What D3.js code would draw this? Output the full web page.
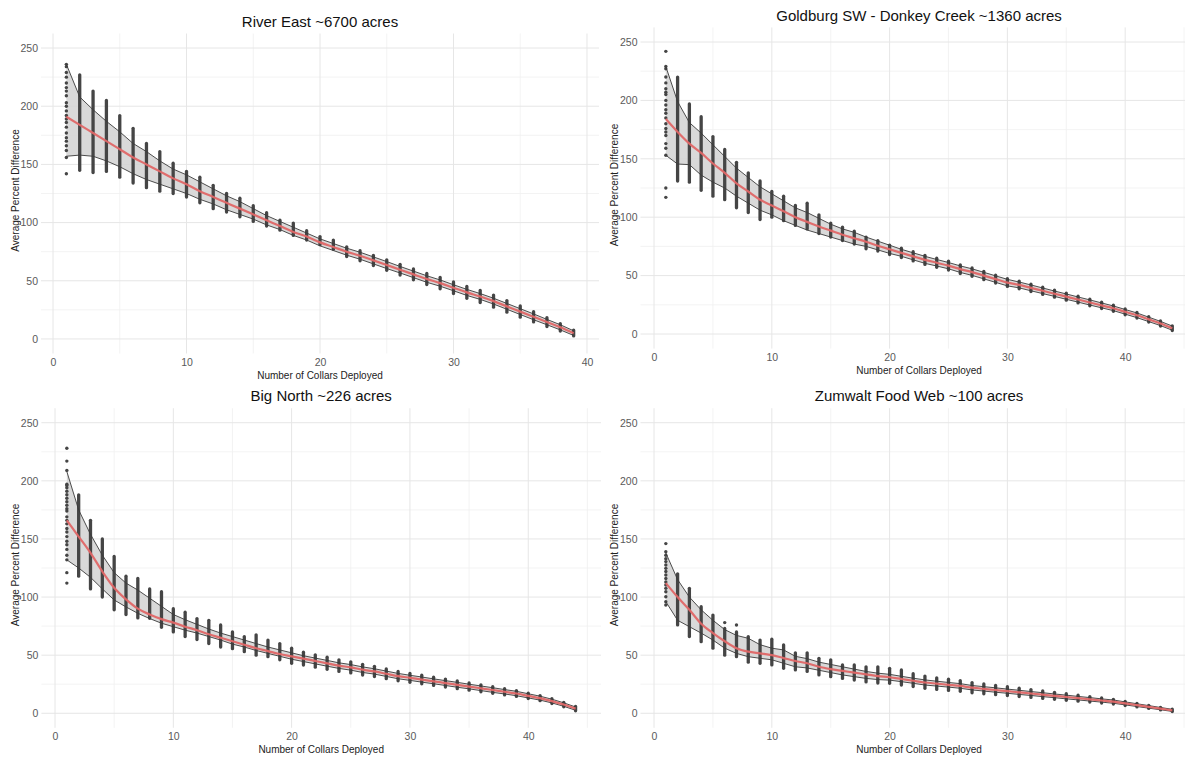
<!DOCTYPE html>
<html><head><meta charset="utf-8">
<script src="https://cdn.jsdelivr.net/npm/d3@7"></script>
<style>
body{margin:0;background:#fff;}
svg{display:block;font-family:"Liberation Sans",Arial,Helvetica,sans-serif;}
</style>
</head><body>
<svg id="chart" width="1185" height="757"></svg>
<script>
// ---------------- DATA ----------------
const panelTitles = ["River East ~6700 acres", "Goldburg SW - Donkey Creek ~1360 acres", "Big North ~226 acres", "Zumwalt Food Web ~100 acres"];
const xAxisTitle = "Number of Collars Deployed";
const yAxisTitle = "Average Percent Difference";
const xTickValues = [0, 10, 20, 30, 40];
const yTickValues = [0, 50, 100, 150, 200, 250];

const collarsRiver = d3.range(1, 40);   // 1..39 collars
const collarsOther = d3.range(1, 45);   // 1..44 collars

// River East
const riverMean = [191,184,177,170,163,156,150,144,138,133, 127,122,117,112,107,102,97,92,88,83, 79,75,71.5,67.5,63.5,59.5,55.5,51.5,48,44, 40,36.5,32.5,28,23.5,19,14.5,10,5];
const riverBandHi = [236,208,197,187,178,168,161,153,146,141, 135,129,123,118,112,106,101,96,91,86, 82,78,74.5,70.5,66.5,62.3,58.3,54.3,50.7,46.6, 42.6,39,35,30.5,26,21.5,16.8,12.2,7];
const riverBandLo = [157,158,157,153,148,142,137,133,129,125, 120,116,111,107,103,98,94,89,85,80, 76,72,68.5,64.5,60.5,56.7,52.7,48.7,45.3,41.4, 37.4,34,30,25.5,21,16.5,12.2,7.8,3];
// point column extents for collars 2..N
const riverColLo = [145,143,144,139,134,130,127,125,122, 117,112,109,105,101,97,93.5,89,85,81, 77,70.8,67.2,63.1,59,54.9,50.8,46.7,43.1,39, 34.9,31.3,27.3,23,18.7,14.6,10.7,6.8,2.6];
const riverColHi = [227,213,205,192,181,168,161,151,144, 139,132,125,121,114.5,108.5,102,99.6,93,88, 85,79.2,75.8,71.9,68,64.1,60.2,56.3,52.9,49, 45.1,41.7,37.7,33,28.3,23.4,18.3,13.2,7.6];
// individual points at 1 collar
const riverFirst = [236,234,229,225,220,216,213,209,203,200,196,192,189,186,182,177,173,170,166,162,156,142];

// Goldburg SW - Donkey Creek
const goldMean = [184,173,163,155,146,138,129,122,115,110, 105,100,96,92,88.5,85,82,79,75.5,72.5, 69.5,66.5,63.5,61,58.5,55.5,53,50,47,44, 42,39.5,37,34.5,32,29.5,27,24.5,22,19, 16,12.5,9,5];
const goldBandHi = [229,199,181,172,162,152,142,134,126,120, 114,108,104,99,94,90,87,83,79.5,76, 72.5,69.5,66.5,63.8,61.2,58.3,55.8,52.8,49.8,46.8, 44.5,42,39.4,36.8,34.3,31.7,29.2,26.6,24,21, 18,14.4,10.8,6.8];
const goldBandLo = [153,145.5,145,136,130,125,118,112,106,102, 97,93,89,86,83,80,77,75,72,69, 66.5,63.5,60.5,58.2,55.8,52.7,50.2,47.2,44.2,41.2, 39.5,37,34.6,32.2,29.7,27.3,24.8,22.4,20,17, 14,10.6,7.2,3.2];
const goldColLo = [131,130,123,118,115,108,104,98,100, 97,93,90,86,83,80,77,73,71,68, 65.5,62.6,59.6,57.1,54.7,51.8,49.4,46.5,43.6,40.7, 38.7,36.3,33.9,31.5,29,26.6,24.2,21.8,19.4,16.5, 13.6,10.2,6.8,3];
const goldColHi = [220,197,186,169,158,147,138,131,122, 118,110,112,102,95,91.5,88,83,80,76, 73.5,70.4,67.4,64.9,62.3,59.2,56.6,53.5,50.4,47.3, 45.3,42.7,40.1,37.5,35,32.4,29.8,27.2,24.6,21.5, 18.4,14.8,11.2,7];
const goldFirst = [242,229,227,220,215,210,207,205,200,196,192,189,185,180,176,173,170,163,159,153,125,117];

// Big North
const bigMean = [166,152,138,122,108,98,90,85,81,78, 74.5,71.5,68,65,62,59,56,53.5,51,49, 47,45,43,41,39.5,37.5,36,34,32,30.5, 29,27.5,26,24.5,23,21.5,20,18.5,17,15, 13,10.5,7.5,4];
const bigBandHi = [208,175,154,136,121,112,106,99,92,85, 80.5,76.5,72.5,69,66,63,60,57,54.5,52, 49.5,47.5,45.5,43.4,41.9,39.9,38.3,36.3,34.3,32.7, 31.2,29.6,28.1,26.6,25,23.5,22,20.4,18.9,16.8, 14.7,12.1,9,5.4];
const bigBandLo = [132,125,117,107,97.5,91.5,86,81.5,77.5,74.5, 71.5,69,66,63,59.5,57,54,51.5,49,46.5, 44.5,42.5,40.5,38.6,37.1,35.1,33.7,31.7,29.7,28.3, 26.8,25.4,23.9,22.4,21,19.5,18,16.6,15.1,13.2, 11.3,8.9,6,2.6];
const bigColLo = [118,107,100,89,85,82,81.7,74,70, 66,63.4,60,57,55.6,53,50,48.7,46,43, 41.5,39.7,37.8,36,34.7,32.9,31.6,29.8,28,26.7, 25.3,24,22.6,21.2,19.9,18.5,17.2,15.8,14.5,12.7, 10.8,8.4,5.6,2.1];
const bigColHi = [188,166,150,135,118,116,107,104.6,90, 87,81.5,80,76,70,66,67.5,63,60,56, 52.5,50.3,48.2,46,44.3,42.1,40.4,38.2,36,34.3, 32.7,31,29.4,27.8,26.1,24.5,22.8,21.2,19.5,17.3, 15.2,12.6,9.4,5.9];
const bigFirst = [228,217,209,197,196,194,191,188,185,182,179,176,174,169,166,163,159,156,152,148,145,141,136,132,121,112];

// Zumwalt Food Web
const zumMean = [112,100,89,77,69,62,56,53,51.5,50, 47.5,45,43,40,38,36.5,35,33.5,32,31, 29.5,28,26.5,25.5,24.5,23.5,22,21,20,19, 18,17,16,15,14,13,12,11,10,8.5, 7,5.5,4,2.5];
const zumBandHi = [138,115,100,89,80,72,67,64.5,59,56, 54.5,49,47,44,42,40,38,36,34.5,33.5, 31.8,30.2,28.7,27.6,26.5,25.5,23.9,22.9,21.9,20.8, 19.8,18.7,17.7,16.6,15.6,14.5,13.5,12.4,11.4,9.8, 8.2,6.6,5,3.4];
const zumBandLo = [96,80,74.5,69,63,56,51.5,48.7,47.3,46, 43,40,39,37,35,33,31.5,30,29,28.5, 27.2,25.8,24.3,23.4,22.5,21.5,20.1,19.1,18.1,17.2, 16.2,15.3,14.3,13.4,12.4,11.5,10.5,9.6,8.6,7.2, 5.8,4.4,3,1.6];
const zumColLo = [76,66,61.6,56,50,48.7,44,43,41.6, 38.7,37.3,36,33,31.5,30,28.6,27,26,25.8, 24.3,23,21.5,20.5,19.7,18.9,17.6,16.8,16,15.2, 14.4,13.6,12.8,12,11.2,10.4,9.6,8.8,8,6.7, 5.5,4.2,2.9,1.5];
const zumColHi = [120,107.5,91.7,84.5,73,70,66,63,63.7, 58.8,52,52,47.3,46,41.6,41.6,40,40,38.7, 37.3,34,32,30.5,29.3,28.1,26.4,25.2,24,22.8, 21.6,20.4,19.2,18,16.8,15.6,14.4,13.2,12,10.3, 8.5,6.8,5.1,3.5];
const zumFirst = [146,139,136,133,130.5,127.6,124.7,122,119,116,113,110.4,107.5,104.6,100.3,96,93.2];
const zumExtraX = [6, 7];
const zumExtraY = [78, 76];

// ---------------- LAYOUT ----------------
const panels = [
  {title: panelTitles[0], xs: collarsRiver, mean: riverMean, hi: riverBandHi, lo: riverBandLo, cLo: riverColLo, cHi: riverColHi, first: riverFirst, ex: [], ey: [],
   xDomain: [-0.9, 40.9], box: {l: 41, r: 599, t: 33.5, b: 353.5}, titleY: 27},
  {title: panelTitles[1], xs: collarsOther, mean: goldMean, hi: goldBandHi, lo: goldBandLo, cLo: goldColLo, cHi: goldColHi, first: goldFirst, ex: [], ey: [],
   xDomain: [-1.15, 46.15], box: {l: 640.5, r: 1197.6, t: 27.4, b: 348.6}, titleY: 20.5},
  {title: panelTitles[2], xs: collarsOther, mean: bigMean, hi: bigBandHi, lo: bigBandLo, cLo: bigColLo, cHi: bigColHi, first: bigFirst, ex: [], ey: [],
   xDomain: [-1.15, 46.15], box: {l: 41.4, r: 601, t: 408.2, b: 727.8}, titleY: 400.5},
  {title: panelTitles[3], xs: collarsOther, mean: zumMean, hi: zumBandHi, lo: zumBandLo, cLo: zumColLo, cHi: zumColHi, first: zumFirst, ex: zumExtraX, ey: zumExtraY,
   xDomain: [-1.15, 46.15], box: {l: 640.5, r: 1197.6, t: 408.2, b: 727.8}, titleY: 400.5}
];

const svg = d3.select("#chart");
const yDomain = [-12.5, 262.5];
const ptColor = "#454545";

panels.forEach(p => {
  const {l, r, t, b} = p.box;
  const x = d3.scaleLinear().domain(p.xDomain).range([l, r]);
  const y = d3.scaleLinear().domain(yDomain).range([b, t]);
  const g = svg.append("g");

  // minor grid
  const xMinor = [5, 15, 25, 35, 45].filter(v => v > p.xDomain[0] && v < p.xDomain[1]);
  const yMinor = [25, 75, 125, 175, 225];
  g.selectAll(".vminor").data(xMinor).join("line")
    .attr("x1", d => x(d)).attr("x2", d => x(d)).attr("y1", t).attr("y2", b)
    .attr("stroke", "#f0f0f0").attr("stroke-width", 0.8);
  g.selectAll(".hminor").data(yMinor).join("line")
    .attr("x1", l).attr("x2", r).attr("y1", d => y(d)).attr("y2", d => y(d))
    .attr("stroke", "#f0f0f0").attr("stroke-width", 0.8);
  // major grid
  g.selectAll(".vmajor").data(xTickValues).join("line")
    .attr("x1", d => x(d)).attr("x2", d => x(d)).attr("y1", t).attr("y2", b)
    .attr("stroke", "#e6e6e6").attr("stroke-width", 1);
  g.selectAll(".hmajor").data(yTickValues).join("line")
    .attr("x1", l).attr("x2", r).attr("y1", d => y(d)).attr("y2", d => y(d))
    .attr("stroke", "#e6e6e6").attr("stroke-width", 1);

  // axes (labels only)
  const xAx = g.append("g").attr("transform", `translate(0,${y(0) + 23})`)
    .call(d3.axisBottom(x).tickValues(xTickValues).tickSize(0).tickPadding(0).tickFormat(d3.format("d")));
  xAx.select(".domain").remove();
  xAx.selectAll("text").attr("y", 0).attr("dy", "0.35em")
    .attr("fill", "#5a5a5a").style("font-size", "10.5px").style("font-family", "Liberation Sans, Arial, sans-serif");
  const yAx = g.append("g").attr("transform", `translate(${l - 3},0)`)
    .call(d3.axisLeft(y).tickValues(yTickValues).tickSize(0).tickPadding(0).tickFormat(d3.format("d")));
  yAx.select(".domain").remove();
  yAx.selectAll("text").attr("x", 0)
    .attr("fill", "#5a5a5a").style("font-size", "10.5px").style("font-family", "Liberation Sans, Arial, sans-serif");

  // titles
  const cx = (l + r) / 2;
  g.append("text").attr("x", cx).attr("y", p.titleY).attr("text-anchor", "middle")
    .attr("fill", "#111").style("font-size", "15px").text(p.title);
  g.append("text").attr("x", cx).attr("y", y(0) + 36.5).attr("dy", "0.35em").attr("text-anchor", "middle")
    .attr("fill", "#222").style("font-size", "10px").text(xAxisTitle);
  const ty = (t + b) / 2 - 3;
  g.append("text").attr("transform", `translate(${l - 26},${ty}) rotate(-90)`).attr("dy", "0.35em")
    .attr("text-anchor", "middle").attr("fill", "#222").style("font-size", "10px").text(yAxisTitle);

  // ribbon
  const area = d3.area().x((d, i) => x(p.xs[i])).y0((d, i) => y(p.lo[i])).y1((d, i) => y(p.hi[i]));
  g.append("path").datum(p.mean).attr("d", area).attr("fill", "#d2d2d2").attr("fill-opacity", 0.85);

  // point columns (collars 2..N)
  const colX = p.xs.slice(1);
  g.selectAll(".col").data(colX).join("line")
    .attr("x1", d => x(d)).attr("x2", d => x(d))
    .attr("y1", (d, i) => y(p.cLo[i])).attr("y2", (d, i) => y(p.cHi[i]))
    .attr("stroke", ptColor).attr("stroke-width", 3.3).attr("stroke-linecap", "round");
  // individual points at 1 collar
  g.selectAll(".first").data(p.first).join("circle")
    .attr("cx", x(p.xs[0])).attr("cy", d => y(d)).attr("r", 1.7).attr("fill", ptColor);
  g.selectAll(".extra").data(p.ex).join("circle")
    .attr("cx", d => x(d)).attr("cy", (d, i) => y(p.ey[i])).attr("r", 1.7).attr("fill", ptColor);

  // ribbon edges
  const lineHi = d3.line().x((d, i) => x(p.xs[i])).y(d => y(d));
  g.append("path").datum(p.hi).attr("d", lineHi).attr("fill", "none").attr("stroke", "#3a3a3a").attr("stroke-width", 0.9);
  g.append("path").datum(p.lo).attr("d", lineHi).attr("fill", "none").attr("stroke", "#3a3a3a").attr("stroke-width", 0.9);

  // mean line
  const lineMean = d3.line().x((d, i) => x(p.xs[i])).y(d => y(d)).curve(d3.curveMonotoneX);
  g.append("path").datum(p.mean).attr("d", lineMean).attr("fill", "none")
    .attr("stroke", "#e06767").attr("stroke-width", 2.2).attr("stroke-opacity", 0.95);
});
</script>
</body></html>
